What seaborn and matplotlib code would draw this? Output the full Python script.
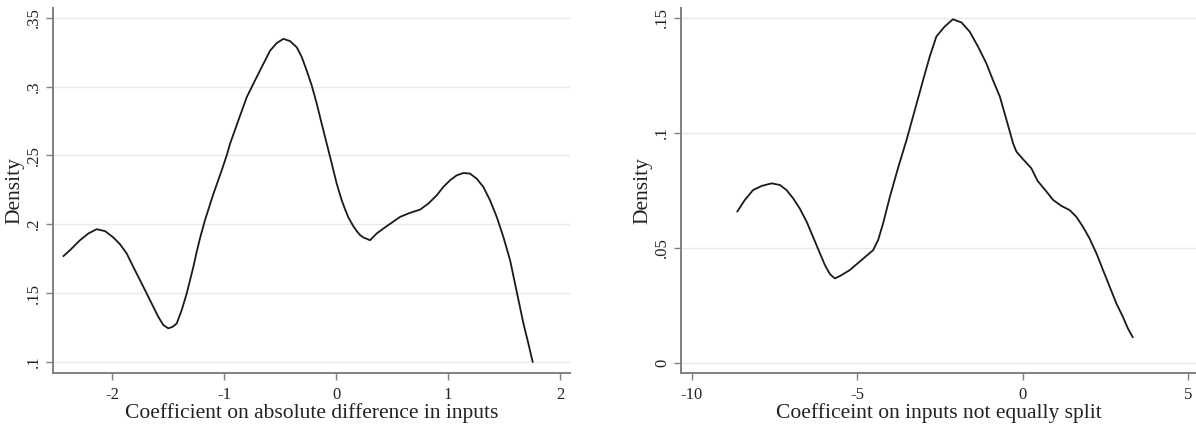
import matplotlib
matplotlib.use("Agg")
import matplotlib.pyplot as plt
import seaborn as sns
import pandas as pd

# Kernel density estimates of the two coefficients
abs_diff_x = [-2.435, -2.375, -2.286, -2.211, -2.137, -2.062, -1.988, -1.929, -1.869, -1.810,
              -1.75, -1.691, -1.631, -1.587, -1.542, -1.497, -1.458, -1.422, -1.378, -1.333,
              -1.274, -1.244, -1.214, -1.170, -1.095, -1.021, -0.976, -0.946, -0.872, -0.797,
              -0.738, -0.679, -0.589, -0.530, -0.470, -0.411, -0.351, -0.306, -0.262, -0.217,
              -0.172, -0.128, -0.083, -0.038, 0.006, 0.051, 0.080, 0.110, 0.155, 0.185,
              0.214, 0.244, 0.304, 0.363, 0.423, 0.571, 0.661, 0.75, 0.824, 0.899,
              0.958, 1.018, 1.077, 1.137, 1.196, 1.256, 1.315, 1.375, 1.435, 1.494,
              1.554, 1.598, 1.673, 1.717, 1.756]
abs_diff_density = [0.1768, 0.1812, 0.1884, 0.1933, 0.1964, 0.1950, 0.1904, 0.1855, 0.1788, 0.1690,
                    0.1594, 0.1498, 0.1400, 0.1328, 0.1268, 0.1244, 0.1256, 0.1280, 0.1377, 0.1498,
                    0.1690, 0.1800, 0.1900, 0.2030, 0.2220, 0.2391, 0.2500, 0.2585, 0.2754, 0.2923,
                    0.3020, 0.3116, 0.3260, 0.3315, 0.3346, 0.3330, 0.3285, 0.3214, 0.3116, 0.3008,
                    0.2875, 0.2730, 0.2585, 0.2440, 0.2295, 0.2174, 0.2110, 0.2050, 0.1985, 0.1950,
                    0.1922, 0.1904, 0.1884, 0.1933, 0.1969, 0.2053, 0.2083, 0.2106, 0.2150, 0.2210,
                    0.2271, 0.2319, 0.2355, 0.2372, 0.2368, 0.2331, 0.2271, 0.2174, 0.2053, 0.1908,
                    0.1739, 0.1570, 0.1280, 0.1135, 0.1000]

unequal_x = [-8.63, -8.40, -8.15, -7.89, -7.59, -7.34, -7.14, -6.94, -6.74, -6.53,
             -6.34, -6.15, -5.98, -5.83, -5.68, -5.53, -5.23, -4.87, -4.52, -4.37,
             -4.22, -4.02, -3.77, -3.51, -3.26, -3.01, -2.81, -2.61, -2.36, -2.11,
             -1.85, -1.60, -1.35, -1.10, -0.90, -0.69, -0.49, -0.29, -0.19, 0.01,
             0.26, 0.45, 0.72, 0.92, 1.17, 1.42, 1.62, 1.82, 2.02, 2.23,
             2.43, 2.63, 2.83, 3.03, 3.18, 3.33]
unequal_density = [0.0658, 0.0709, 0.0752, 0.0770, 0.0781, 0.0774, 0.0752, 0.0716, 0.0672, 0.0614,
                   0.0549, 0.0484, 0.0426, 0.0387, 0.0368, 0.0378, 0.0404, 0.0448, 0.0491, 0.0535,
                   0.0607, 0.0720, 0.0847, 0.0970, 0.1100, 0.1230, 0.1332, 0.1419, 0.1462, 0.1494,
                   0.1480, 0.1440, 0.1375, 0.1303, 0.1230, 0.1158, 0.1057, 0.0955, 0.0919, 0.0886,
                   0.0847, 0.0792, 0.0745, 0.0709, 0.0683, 0.0665, 0.0636, 0.0593, 0.0542, 0.0477,
                   0.0404, 0.0332, 0.0260, 0.0201, 0.0151, 0.0112]

left_xticks = [-2, -1, 0, 1, 2]
left_yticks = [0.1, 0.15, 0.2, 0.25, 0.3, 0.35]
left_yticklabels = [".1", ".15", ".2", ".25", ".3", ".35"]
right_xticks = [-10, -5, 0, 5]
right_yticks = [0, 0.05, 0.1, 0.15]
right_yticklabels = ["0", ".05", ".1", ".15"]

left_xlabel = "Coefficient on absolute difference in inputs"
right_xlabel = "Coefficeint on inputs not equally split"

sns.set_theme(style="white")
plt.rcParams["font.family"] = ["Liberation Serif", "DejaVu Serif"]

fig = plt.figure(figsize=(11.96, 4.25), dpi=100)
ax1 = fig.add_axes([53 / 1196, 1 - 373 / 425, (570 - 53) / 1196, (373 - 8) / 425])
ax2 = fig.add_axes([681 / 1196, 1 - 373 / 425, (1196 - 681) / 1196, (373 - 8) / 425])

panels = [
    (ax1, abs_diff_x, abs_diff_density, left_xticks, left_yticks, left_yticklabels,
     left_xlabel, (-2.527, 2.089), (0.092, 0.357)),
    (ax2, unequal_x, unequal_density, right_xticks, right_yticks, right_yticklabels,
     right_xlabel, (-10.33, 5.24), (-0.0043, 0.1543)),
]

for ax, xs, ds, xt, yt, ytl, xl, xlim, ylim in panels:
    df = pd.DataFrame({"x": xs, "density": ds})
    sns.lineplot(data=df, x="x", y="density", ax=ax, color="#1a1a1a", linewidth=1.3)
    ax.set_xlim(*xlim)
    ax.set_ylim(*ylim)
    ax.set_xticks(xt)
    ax.set_xticklabels([str(v) for v in xt])
    ax.set_yticks(yt)
    ax.set_yticklabels(ytl, rotation=90, va="center")
    for y in yt:
        ax.axhline(y, color="#e9e9e9", linewidth=1.0, zorder=0)
    for side in ("top", "right"):
        ax.spines[side].set_visible(False)
    for side in ("left", "bottom"):
        ax.spines[side].set_color("#808080")
        ax.spines[side].set_linewidth(1.4)
    ax.tick_params(axis="both", direction="out", length=5, width=1.0, color="#808080",
                   labelsize=12, labelcolor="#222222", bottom=True, left=True)
    ax.tick_params(axis="x", pad=5)
    ax.tick_params(axis="y", pad=3)
    ax.set_xlabel(xl, fontsize=15.5, color="#222222", labelpad=0)
    ax.set_ylabel("Density", fontsize=15.5, color="#222222", labelpad=1)

fig.savefig("out.png", dpi=100, facecolor="white")
